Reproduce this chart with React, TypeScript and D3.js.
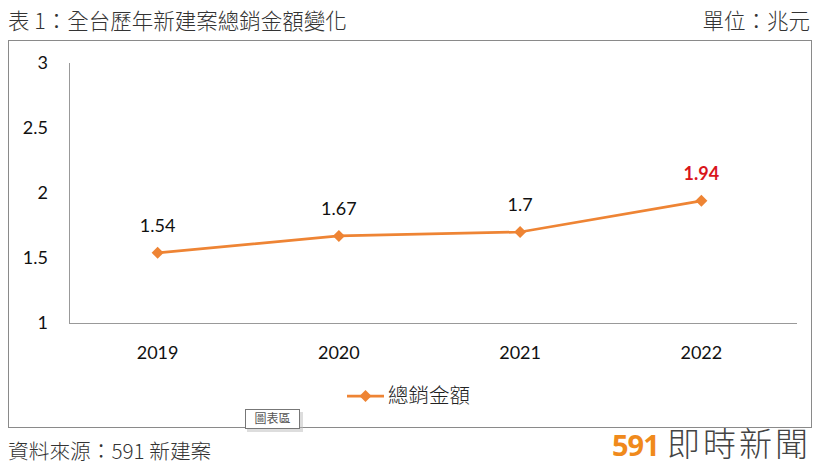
import React from "react";
import * as d3 from "d3";

const years = ["2019", "2020", "2021", "2022"];
const totals = [1.54, 1.67, 1.7, 1.94];
const yTicks = [1, 1.5, 2, 2.5, 3];
const seriesName = "總銷金額";

const WIDTH = 820;
const HEIGHT = 466;
const PLOT = { left: 69, right: 797, top: 63, bottom: 323 };
const ORANGE = "#EE8434";
const LATIN = "Lato, 'Open Sans', sans-serif";
const CJK = "'Noto Sans CJK TC', 'Noto Sans CJK SC', sans-serif";

const diamond = (cx: number, cy: number, r: number) =>
  `M${cx},${cy - r}L${cx + r},${cy}L${cx},${cy + r}L${cx - r},${cy}Z`;

export default function App() {
  // category centres sit slightly left of a plain split of the axis
  const x = d3.scaleBand().domain(years).range([67, 792]);
  const y = d3.scaleLinear().domain([1, 3]).range([PLOT.bottom, PLOT.top]);
  const cx = (yr: string) => x(yr)! + x.bandwidth() / 2;

  const line = d3
    .line<number>()
    .x((_, i) => cx(years[i]))
    .y((d) => y(d));

  return (
    <svg
      width={WIDTH}
      height={HEIGHT}
      style={{ position: "absolute", left: 0, top: 0, background: "#fff" }}
    >
      <rect x={0} y={0} width={WIDTH} height={HEIGHT} fill="#fff" />
      {/* header */}
      <text x={8} y={29} fontFamily={CJK} fontWeight={300} fontSize={21.5} fill="#333">
        表 1：全台歷年新建案總銷金額變化
      </text>
      <text x={810} y={29} textAnchor="end" fontFamily={CJK} fontWeight={300} fontSize={21.5} fill="#333">
        單位：兆元
      </text>

      {/* chart frame */}
      <rect x={8.5} y={40.5} width={803} height={387} fill="#fff" stroke="#8a8a8a" strokeWidth={1} />

      {/* axes */}
      <line x1={PLOT.left + 0.5} x2={PLOT.left + 0.5} y1={PLOT.top} y2={PLOT.bottom} stroke="#999" />
      <line x1={PLOT.left} x2={PLOT.right} y1={PLOT.bottom + 0.5} y2={PLOT.bottom + 0.5} stroke="#999" />

      {yTicks.map((t) => (
        <text
          key={t}
          x={48}
          y={y(t)}
          dy="0.35em"
          textAnchor="end"
          fontFamily={LATIN}
          fontSize={18}
          fill="#111"
        >
          {t}
        </text>
      ))}

      {years.map((yr) => (
        <text
          key={yr}
          x={cx(yr)}
          y={353}
          dy="0.35em"
          textAnchor="middle"
          fontFamily={LATIN}
          fontSize={18}
          fill="#111"
        >
          {yr}
        </text>
      ))}

      {/* series */}
      <path d={line(totals) ?? ""} fill="none" stroke={ORANGE} strokeWidth={2.75} />
      {totals.map((v, i) => {
        const px = cx(years[i]);
        const last = i === totals.length - 1;
        return (
          <g key={years[i]}>
            <path d={diamond(px, y(v), 6)} fill={ORANGE} />
            <text
              x={px}
              y={y(v) - 27}
              dy="0.35em"
              textAnchor="middle"
              fontFamily={LATIN}
              fontSize={18}
              fontWeight={last ? 700 : 400}
              fill={last ? "#D9141B" : "#111"}
            >
              {v}
            </text>
          </g>
        );
      })}

      {/* legend */}
      <line x1={347} x2={384} y1={396} y2={396} stroke={ORANGE} strokeWidth={2.75} />
      <path d={diamond(365.5, 396, 6)} fill={ORANGE} />
      <text x={388} y={396} dy="0.35em" fontFamily={CJK} fontWeight={300} fontSize={20.5} fill="#222">
        {seriesName}
      </text>

      {/* tooltip "圖表區" */}
      <rect x={247} y={412} width={56} height={20} fill="#bbb" opacity={0.5} />
      <rect x={245.5} y={409.5} width={54} height={19} fill="#fff" stroke="#777" />
      <text x={272.5} y={419} dy="0.35em" textAnchor="middle" fontFamily={CJK} fontSize={12} fill="#555">
        圖表區
      </text>

      {/* footer */}
      <text x={8} y={459} fontFamily={CJK} fontWeight={300} fontSize={20.7} fill="#333">
        資料來源：591 新建案
      </text>
      <text x={612} y={456} fontFamily={"'Open Sans', sans-serif"} fontWeight={700} fontSize={29} letterSpacing={-1} fill="#F08A1C">
        591
      </text>
      <text x={667} y={456} fontFamily={CJK} fontWeight={300} fontSize={33} fill="#444" letterSpacing={3}>
        即時新聞
      </text>
    </svg>
  );
}
